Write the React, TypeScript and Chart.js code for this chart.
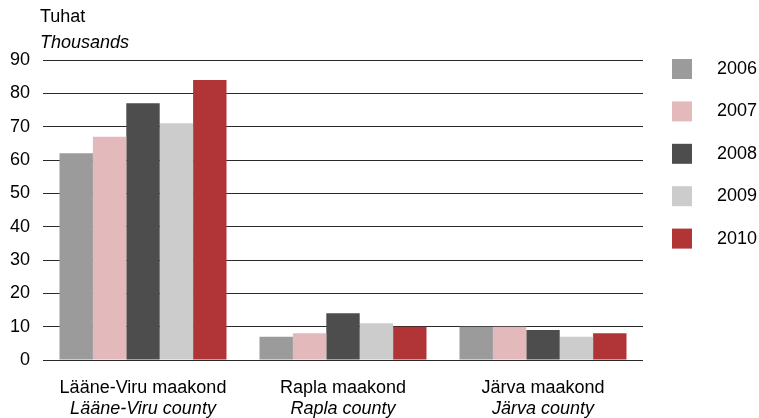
import React, { useEffect, useRef } from "react";
import { Chart, registerables } from "chart.js";

Chart.register(...registerables);

const categoriesEt = ["Lääne-Viru maakond", "Rapla maakond", "Järva maakond"];
const categoriesEn = ["Lääne-Viru county", "Rapla county", "Järva county"];
const years = ["2006", "2007", "2008", "2009", "2010"];
const colors = ["#9b9b9b", "#e3b9bb", "#4d4d4d", "#cccccc", "#b13437"];
const values2006 = [62, 7, 10];
const values2007 = [67, 8, 10];
const values2008 = [77, 14, 9];
const values2009 = [71, 11, 7];
const values2010 = [84, 10, 8];
const seriesValues = [values2006, values2007, values2008, values2009, values2010];
const yMax = 90;
const yStep = 10;
const unitEt = "Tuhat";
const unitEn = "Thousands";

const FONT = "Liberation Sans, Arial, sans-serif";
const FS = 18;

const overlayPlugin = {
  id: "overlay",
  afterDraw(chart: any) {
    const ctx = chart.ctx;
    const area = chart.chartArea;
    const xs = chart.scales.x;
    ctx.save();
    ctx.fillStyle = "#000";
    ctx.textAlign = "left";
    ctx.textBaseline = "middle";
    ctx.font = `${FS}px ${FONT}`;
    ctx.fillText(unitEt, 40, 17);
    ctx.font = `italic ${FS}px ${FONT}`;
    ctx.fillText(unitEn, 40, 43);
    ctx.textAlign = "center";
    categoriesEt.forEach((c, i) => {
      const x = xs.getPixelForValue(i);
      ctx.font = `${FS}px ${FONT}`;
      ctx.fillText(c, x, area.bottom + 28);
      ctx.font = `italic ${FS}px ${FONT}`;
      ctx.fillText(categoriesEn[i], x, area.bottom + 49);
    });
    ctx.textAlign = "left";
    ctx.font = `${FS}px ${FONT}`;
    chart.data.datasets.forEach((ds: any, i: number) => {
      const top = area.top - 1 + i * 42.4;
      ctx.fillStyle = ds.backgroundColor;
      ctx.fillRect(area.right + 29, top, 20, 20);
      ctx.fillStyle = "#000";
      ctx.fillText(ds.label, area.right + 74, top + 10);
    });
    ctx.restore();
  },
};

export default function App() {
  const ref = useRef<HTMLCanvasElement>(null);
  useEffect(() => {
    document.body.style.margin = "0";
    const chart = new Chart(ref.current!, {
      type: "bar",
      data: {
        labels: categoriesEt,
        datasets: years.map((y, i) => ({
          label: y,
          data: seriesValues[i],
          backgroundColor: colors[i],
          borderWidth: 0,
          categoryPercentage: 0.835,
          barPercentage: 1,
        })),
      },
      options: {
        animation: false,
        responsive: false,
        maintainAspectRatio: false,
        layout: { padding: { top: 60, right: 116, bottom: 0, left: 0 } },
        plugins: { legend: { display: false }, tooltip: { enabled: false } },
        scales: {
          x: {
            grid: { display: false },
            border: { display: false },
            ticks: { display: false },
            afterFit(scale: any) {
              scale.height = 58;
            },
          },
          y: {
            min: 0,
            max: yMax,
            ticks: {
              stepSize: yStep,
              color: "#000",
              font: { family: FONT, size: FS },
              padding: 13,
            },
            grid: { color: "#2a2a2a", lineWidth: 1, drawTicks: false },
            border: { display: false },
            afterFit(scale: any) {
              scale.width = 43;
            },
          },
        },
      },
      plugins: [overlayPlugin],
    });
    return () => chart.destroy();
  }, []);
  return (
    <div style={{ width: 759, height: 418 }}>
      <canvas ref={ref} width={759} height={418} style={{ display: "block" }} />
    </div>
  );
}
